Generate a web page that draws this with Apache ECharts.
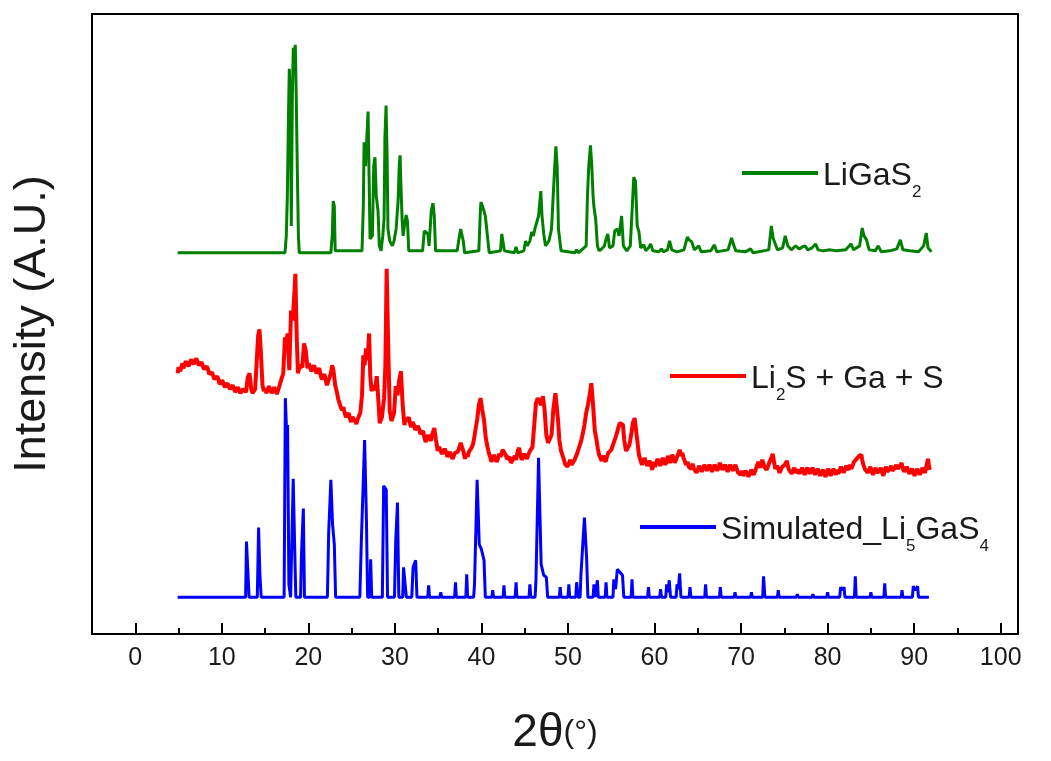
<!DOCTYPE html>
<html>
<head>
<meta charset="utf-8">
<script src="https://cdn.jsdelivr.net/npm/echarts@6/dist/echarts.min.js"></script>
<style>
  html, body { margin: 0; padding: 0; background: #fff; }
  #echart { width: 1051px; height: 761px; }
</style>
</head>
<body>
<div id="echart"></div>
<script>
// tick values on the 2θ axis
var majorTicks = [0, 10, 20, 30, 40, 50, 60, 70, 80, 90, 100];
var minorTicks = [5, 15, 25, 35, 45, 55, 65, 75, 85, 95];

// LiGaS2 pattern (offset upward)
var ligas2 = [
  [4.9,383],[17.3,383],[17.45,400],[17.57,439],[17.7,520],[17.8,568],[17.92,530],[18.03,410],[18.15,540],[18.26,589],[18.4,585],[18.49,592],[18.6,540],[18.72,469],[18.85,400],[18.95,383],
  [22.6,383],[22.76,400],[22.87,435],[23.0,430],[23.1,385],
  [26.2,385],[26.35,430],[26.44,494],[26.6,470],[26.9,525],[27.0,470],[27.13,397],[27.4,400],[27.55,470],[27.7,479],[27.85,440],[28.05,425],[28.2,390],[28.4,385],[28.6,400],[28.75,417],[28.85,500],[28.98,531],[29.1,480],[29.2,407],[29.4,395],[29.7,390],[29.9,395],[30.14,407],[30.37,435],[30.5,470],[30.6,481],[30.7,450],[30.83,417],[30.95,400],[31.1,410],[31.3,421],[31.45,415],[31.6,385],
  [33.2,385],[33.4,405],[33.6,407],[33.8,402],[33.95,390],[34.2,425],[34.4,433],[34.55,420],[34.7,385],
  [37.2,385],[37.4,397],[37.6,407],[37.75,409],[37.9,395],[38.05,383],
  [39.7,385],[39.85,420],[39.94,434],[40.1,430],[40.3,425],[40.45,420],[40.6,418],[40.75,395],[40.9,383],
  [42.2,385],[42.35,402],[42.5,404],[42.65,385],[43.8,383],[44.0,389],[44.2,383],[44.9,385],[45.1,395],[45.3,390],[45.6,395],[45.8,404],[46.0,400],[46.2,408],[46.4,414],[46.6,420],[46.86,445],[47.0,420],[47.2,402],[47.4,390],[47.8,395],[48.1,407],[48.35,450],[48.6,490],[48.75,470],[48.9,407],[49.2,385],
  [50.8,383],[51.0,386],[51.2,383],[52.1,390],[52.25,440],[52.4,470],[52.6,491],[52.75,470],[52.9,440],[53.0,429],[53.2,417],[53.4,390],[53.6,385],[53.9,387],[54.2,390],[54.4,397],[54.6,402],[54.8,388],[55.2,390],[55.4,405],[55.7,407],[55.9,400],[56.2,420],[56.4,390],[56.8,385],[57.2,390],[57.4,424],[57.6,459],[57.8,455],[58.0,410],[58.2,404],[58.4,388],[58.75,391],[59.0,385],[59.3,388],[59.55,392],[59.8,385],
  [60.5,384],[60.8,387],[61.0,384],[61.5,386],[61.74,395],[62.0,386],[62.6,384],[63.4,386],[63.8,399],[64.0,396],[64.3,394],[64.6,386],[65.1,390],[65.4,384],[66.5,385],[66.9,391],[67.2,384],[68.5,386],[68.9,398],[69.1,392],[69.4,385],
  [70.5,384],[71.1,387],[71.4,383],[73.2,386],[73.5,410],[73.7,398],[73.9,397],[74.2,386],[74.8,388],[75.1,400],[75.4,390],[75.8,386],[76.3,390],[76.7,387],[77.1,389],[77.4,390],[77.7,386],[78.2,388],[78.6,392],[78.9,386],[79.5,385],
  [80.3,386],[81.0,385],[82.1,386],[82.7,392],[83.0,386],[83.7,390],[84.0,408],[84.2,400],[84.5,396],[84.8,386],[85.5,385],[85.85,390],[86.2,384],[87.2,385],[88.0,387],[88.4,396],[88.7,386],[89.5,385],[90.5,384],[91.1,390],[91.4,403],[91.6,388],[92.0,384]
];

// Li2S + Ga + S measured pattern
var mixture = [
  [4.9,262],[5.0,268],[5.1,270],[5.2,264],[5.3,265],[5.45,272],[5.55,267],[5.7,268],[5.85,274],[6.0,274],[6.15,269],[6.3,270],[6.45,276],[6.6,278],[6.75,271],[6.9,272],[7.05,277],[7.2,275],[7.35,270],[7.5,268],[7.65,273],[7.8,271],[7.95,266],[8.1,265],[8.25,269],[8.4,266],[8.55,261],[8.7,259],[8.85,263],[9.0,261],[9.15,256],[9.3,255],[9.45,259],[9.6,256],[9.75,251],[9.9,251],
  [10.05,255],[10.2,253],[10.35,248],[10.5,248],[10.65,252],[10.8,251],[10.95,246],[11.1,246],[11.25,250],[11.4,248],[11.55,243],[11.7,244],[11.85,248],[12.0,247],[12.15,242],[12.3,241],[12.45,246],[12.6,245],[12.8,243],[13.0,258],[13.2,262],[13.4,246],[13.55,242],[13.7,240],[13.85,246],[14.0,244],[14.2,300],[14.35,306],[14.5,285],[14.7,250],
  [14.85,244],[15.0,247],[15.15,242],[15.3,244],[15.45,249],[15.6,247],[15.75,242],[15.9,243],[16.05,248],[16.2,246],[16.35,241],[16.5,245],[16.65,249],[16.8,250],[17.1,262],[17.3,298],[17.45,292],[17.6,302],[17.8,265],[18.0,325],[18.2,315],[18.4,345],[18.5,362],[18.65,300],[18.8,262],[19.0,270],[19.3,268],[19.5,292],[19.7,285],[19.9,267],
  [20.05,272],[20.2,270],[20.35,264],[20.5,265],[20.65,270],[20.8,268],[20.95,262],[21.1,263],[21.25,267],[21.4,261],[21.55,256],[21.7,258],[21.85,261],[22.0,255],[22.15,250],[22.3,252],[22.6,262],[22.75,270],[22.9,265],[23.1,250],[23.3,243],[23.45,236],[23.6,232],[23.75,228],[23.9,225],[24.05,228],[24.2,222],[24.35,218],[24.5,220],[24.65,222],[24.8,217],[24.95,213],
  [25.1,218],[25.25,220],[25.4,214],[25.55,211],[25.7,216],[25.85,219],[26.0,222],[26.2,240],[26.35,280],[26.5,270],[26.67,287],[26.85,275],[27.02,302],[27.15,260],[27.3,244],[27.5,250],[27.7,245],[27.9,259],[28.05,240],[28.25,212],[28.5,218],[28.75,237],[28.9,270],[29.05,367],[29.2,300],[29.4,225],[29.6,214],[29.9,222],
  [30.1,249],[30.3,240],[30.5,255],[30.7,264],[30.9,230],[31.1,210],[31.25,217],[31.4,214],[31.6,218],[31.75,211],[31.9,208],[32.05,213],[32.2,210],[32.35,205],[32.5,204],[32.65,209],[32.8,206],[32.95,201],[33.1,200],[33.25,204],[33.4,198],[33.55,193],[33.7,195],[33.85,200],[34.0,198],[34.15,194],[34.3,200],[34.55,207],[34.75,195],[34.95,184],
  [35.1,188],[35.3,186],[35.45,181],[35.6,181],[35.75,186],[35.9,183],[36.05,178],[36.2,178],[36.35,183],[36.5,181],[36.65,176],[36.8,177],[36.95,182],[37.1,180],[37.25,183],[37.4,186],[37.6,192],[37.75,194],[37.9,184],[38.1,176],[38.25,181],[38.4,178],[38.55,183],[38.7,182],[38.85,187],[39.0,190],[39.15,196],[39.3,205],[39.5,215],[39.7,230],[39.9,237],
  [40.1,225],[40.3,215],[40.5,197],[40.7,188],[40.85,182],[41.0,178],[41.15,173],[41.3,175],[41.45,180],[41.6,178],[41.75,173],[41.9,176],[42.05,181],[42.2,178],[42.45,185],[42.6,187],[42.8,180],[42.95,176],[43.1,174],[43.25,178],[43.4,172],[43.55,170],[43.7,176],[43.85,179],[44.0,175],[44.2,184],[44.35,187],[44.5,180],[44.65,175],[44.8,176],[44.95,181],
  [45.1,180],[45.25,176],[45.4,178],[45.55,183],[45.7,183],[45.9,188],[46.1,210],[46.3,232],[46.5,237],[46.7,236],[46.9,230],[47.1,239],[47.3,225],[47.5,200],[47.7,192],[47.9,190],[48.1,200],[48.3,225],[48.55,242],[48.7,244],[48.85,215],[49.0,195],[49.2,184],[49.35,180],[49.5,176],[49.65,171],[49.8,173],[49.95,168],
  [50.1,171],[50.25,175],[50.4,170],[50.55,168],[50.7,174],[50.85,177],[51.0,180],[51.15,184],[51.3,188],[51.45,192],[51.6,197],[51.75,203],[51.9,210],[52.1,222],[52.3,230],[52.5,240],[52.7,252],[52.9,230],[53.1,204],[53.3,195],[53.45,186],[53.6,180],[53.75,177],[53.9,174],[54.05,179],[54.2,176],[54.35,173],[54.5,178],[54.65,182],[54.8,180],
  [55.0,185],[55.2,190],[55.4,192],[55.6,200],[55.8,207],[56.0,212],[56.2,214],[56.35,210],[56.5,195],[56.7,184],[56.9,186],[57.1,190],[57.3,200],[57.5,212],[57.7,217],[57.85,215],[58.0,195],[58.2,180],
  [58.4,174],[58.55,170],[58.7,172],[58.85,177],[59.0,175],[59.15,169],[59.3,170],[59.45,174],[59.6,169],[59.75,165],[59.9,173],[60.05,168],[60.2,170],[60.35,176],[60.5,174],[60.65,169],[60.8,172],[60.95,177],[61.1,176],[61.25,170],[61.4,173],[61.55,179],[61.7,178],[61.8,172],[61.9,175],[62.05,180],[62.2,177],[62.35,172],[62.5,174],[62.65,179],[62.8,178],[62.9,185],[63.0,184],[63.1,179],[63.2,182],[63.35,177],[63.5,175],[63.65,170],[63.8,173],[63.95,168],[64.1,170],[64.25,166],[64.4,171],[64.55,166],[64.7,167],[64.85,162],
  [65.0,165],[65.15,169],[65.3,168],[65.45,163],[65.6,166],[65.75,170],[65.9,169],[66.05,164],[66.2,166],[66.35,170],[66.5,168],[66.65,163],[66.8,165],[66.95,170],[67.1,169],[67.25,164],[67.4,167],[67.55,172],[67.7,170],[67.85,165],[68.0,166],[68.15,170],[68.3,168],[68.45,163],[68.6,165],[68.75,170],[68.9,169],[69.05,164],[69.2,166],[69.35,170],[69.5,168],[69.65,162],[69.8,163],[69.95,160],
  [70.1,164],[70.25,159],[70.4,160],[70.55,164],[70.7,162],[70.85,158],[71.0,161],[71.15,165],[71.3,164],[71.45,160],[71.6,163],[71.75,167],[71.9,168],[72.0,173],[72.1,172],[72.2,167],[72.3,170],[72.45,175],[72.6,174],[72.7,168],[72.8,169],[72.95,165],[73.1,168],[73.25,172],[73.4,174],[73.55,178],[73.65,181],[73.75,176],[73.85,174],[73.95,166],[74.05,165],[74.15,169],[74.3,166],[74.45,162],[74.6,164],[74.75,168],[74.9,167],
  [75.05,170],[75.2,172],[75.3,174],[75.4,169],[75.55,165],[75.7,165],[75.85,161],[76.0,164],[76.15,167],[76.3,162],[76.45,160],[76.6,165],[76.75,161],[76.9,163],[77.05,167],[77.2,165],[77.35,160],[77.5,162],[77.65,167],[77.8,166],[77.95,161],[78.1,163],[78.25,167],[78.4,165],[78.55,160],[78.7,162],[78.85,166],[79.0,164],[79.15,159],[79.3,161],[79.45,165],[79.6,163],[79.75,158],[79.9,161],
  [80.05,166],[80.2,164],[80.35,159],[80.5,162],[80.65,166],[80.8,163],[80.95,160],[81.1,165],[81.25,161],[81.4,163],[81.55,168],[81.7,166],[81.85,162],[82.0,165],[82.15,169],[82.3,168],[82.45,165],[82.6,170],[82.75,166],[82.9,168],[83.05,173],[83.2,172],[83.35,176],[83.5,175],[83.65,179],[83.8,177],[83.9,180],[84.0,175],[84.1,171],[84.2,170],[84.35,165],[84.5,166],[84.65,162],[84.8,165],[84.95,168],
  [85.1,163],[85.25,160],[85.4,164],[85.55,167],[85.7,162],[85.85,160],[86.0,164],[86.15,167],[86.3,162],[86.45,159],[86.6,165],[86.75,168],[86.9,163],[87.05,161],[87.2,166],[87.35,169],[87.5,164],[87.65,162],[87.8,167],[87.95,170],[88.1,166],[88.25,164],[88.4,169],[88.55,172],[88.7,166],[88.85,163],[89.0,164],[89.15,168],[89.3,165],[89.45,161],[89.6,162],[89.75,166],[89.9,163],
  [90.05,159],[90.2,162],[90.35,166],[90.5,164],[90.65,160],[90.8,163],[90.95,167],[91.1,165],[91.25,162],[91.4,168],[91.5,172],[91.6,176],[91.7,170],[91.8,165]
];

// simulated Li5GaS4 pattern
var simulated = [
  [4.9,37],[12.75,37],[12.85,93],[13.05,93],[13.15,37],
  [14.1,37],[14.25,107],[14.4,60],[14.55,37],
  [17.2,37],[17.34,237],[17.5,200],[17.6,210],[17.75,50],[17.95,37],[18.25,156],[18.4,95],[18.55,37],
  [19.1,37],[19.2,79],[19.42,126],[19.55,37],
  [22.2,37],[22.35,102],[22.6,155],[22.8,110],[23.0,90],[23.15,37],
  [25.95,37],[26.1,87],[26.5,195],[26.7,120],[26.85,37],[27.1,37],[27.2,75],[27.32,37],
  [28.55,37],[28.7,149],[29.0,145],[29.15,37],
  [29.95,37],[30.1,95],[30.3,132],[30.45,37],[30.9,37],[31.0,67],[31.2,67],[31.32,37],
  [31.95,37],[32.1,67],[32.4,74],[32.55,37],
  [33.8,37],[33.9,49],[34.0,37],[35.2,37],[35.3,42],[35.4,37],[36.9,37],[37.0,52],[37.1,37],[38.2,37],[38.3,60],[38.4,37],
  [39.1,37],[39.2,50],[39.5,155],[39.75,90],[40.0,85],[40.3,74],[40.45,37],
  [41.2,37],[41.3,44],[41.4,37],[42.5,37],[42.6,49],[42.7,37],[43.9,37],[44.0,52],[44.1,37],[45.5,37],[45.6,50],[45.7,37],
  [46.2,37],[46.3,54],[46.6,177],[46.9,70],[47.2,59],[47.5,57],[47.65,37],
  [49.0,37],[49.1,47],[49.2,37],[50.0,37],[50.1,50],[50.2,37],[50.9,37],[51.0,52],[51.15,37],[51.4,37],[51.5,60],[51.9,117],[52.15,77],[52.3,37],
  [52.9,37],[53.0,50],[53.15,37],[53.3,37],[53.4,54],[53.5,37],[54.3,37],[54.4,52],[54.5,37],
  [55.2,37],[55.3,55],[55.5,45],[55.7,65],[56.0,62],[56.3,59],[56.45,37],[57.3,37],[57.4,55],[57.5,37],
  [59.2,37],[59.3,47],[59.4,37],[60.6,37],[60.7,45],[60.8,37],[61.3,37],[61.4,50],[61.55,42],[61.7,54],[61.85,37],[62.5,37],[62.6,50],[62.75,45],[62.9,61],[63.05,37],
  [64.0,37],[64.1,47],[64.2,37],[65.8,37],[65.9,50],[66.0,37],[67.5,37],[67.6,47],[67.7,37],[69.2,37],[69.3,42],[69.4,37],[71.1,37],[71.2,42],[71.3,37],
  [72.5,37],[72.6,58],[72.75,37],[74.2,37],[74.3,44],[74.4,37],[76.4,37],[76.5,40],[76.6,37],[78.2,37],[78.3,40],[78.4,37],[79.9,37],[80.0,42],[80.1,37],
  [81.4,37],[81.5,47],[81.7,44],[81.9,47],[82.0,37],[83.1,37],[83.2,58],[83.3,37],[84.9,37],[85.0,42],[85.1,37],[86.5,37],[86.6,51],[86.7,37],
  [88.5,37],[88.6,44],[88.7,37],[89.8,37],[89.9,48],[90.15,44],[90.4,48],[90.5,37],[91.7,37]
];

var myChart = echarts.init(document.getElementById('echart'));

var fontFam = '"Liberation Sans", Arial, sans-serif';
var legendRich = {
  n: { fontSize: 32, lineHeight: 32, padding: [3, 0, 0, 0], verticalAlign: 'top', color: '#1a1a1a', fontFamily: fontFam },
  s: { fontSize: 17, lineHeight: 17, padding: [27, 0, 0, 0], verticalAlign: 'top', color: '#1a1a1a', fontFamily: fontFam }
};
function makeLegend(name, left, top) {
  return {
    data: [name],
    left: left,
    top: top,
    padding: 0,
    icon: 'rect',
    itemWidth: 76,
    itemHeight: 4,
    selectedMode: false,
    textStyle: { rich: legendRich },
    formatter: function (n) {
      if (n === 'LiGaS2') return '{n|LiGaS}{s|2}';
      if (n === 'Li2S + Ga + S') return '{n|Li}{s|2}{n|S + Ga + S}';
      return '{n|Simulated_Li}{s|5}{n|GaS}{s|4}';
    }
  };
}

var option = {
  animation: false,
  backgroundColor: '#fff',
  grid: {
    left: 92, right: 33, top: 14, bottom: 123,
    show: true, borderColor: '#000', borderWidth: 2
  },
  legend: [
    makeLegend('LiGaS2', 742, 157),
    makeLegend('Li2S + Ga + S', 670, 360),
    makeLegend('Simulated_Li5GaS4', 640, 511)
  ],
  xAxis: [
    {
      type: 'value',
      min: -5,
      max: 102,
      axisLine: { show: true, onZero: false, lineStyle: { color: '#000', width: 2 } },
      axisTick: { show: true, inside: true, length: 11, customValues: majorTicks, lineStyle: { color: '#000', width: 2 } },
      axisLabel: { customValues: majorTicks, color: '#1a1a1a', fontSize: 25, margin: 12, fontFamily: fontFam },
      splitLine: { show: false },
      name: '{a|2θ}{b|(°)}',
      nameLocation: 'middle',
      nameGap: 76,
      nameTextStyle: {
        rich: {
          a: { fontSize: 46, color: '#1a1a1a', fontFamily: fontFam },
          b: { fontSize: 32, color: '#1a1a1a', fontFamily: fontFam }
        }
      }
    },
    {
      type: 'value',
      min: -5,
      max: 102,
      position: 'bottom',
      axisLine: { show: false },
      axisTick: { show: true, inside: true, length: 6, customValues: minorTicks, lineStyle: { color: '#000', width: 2 } },
      axisLabel: { show: false },
      splitLine: { show: false }
    }
  ],
  yAxis: {
    type: 'value',
    min: 0,
    max: 623,
    axisLine: { show: false },
    axisTick: { show: false },
    axisLabel: { show: false },
    splitLine: { show: false },
    name: 'Intensity (A.U.)',
    nameLocation: 'middle',
    nameGap: 37,
    nameTextStyle: { fontSize: 45, color: '#1a1a1a', fontFamily: fontFam }
  },
  series: [
    {
      name: 'LiGaS2', type: 'line', data: ligas2, showSymbol: false,
      color: '#008000', lineStyle: { width: 3, color: '#008000' }
    },
    {
      name: 'Li2S + Ga + S', type: 'line', data: mixture, showSymbol: false,
      color: '#ff0000', lineStyle: { width: 4, color: '#ff0000' }
    },
    {
      name: 'Simulated_Li5GaS4', type: 'line', data: simulated, showSymbol: false,
      color: '#0000ff', lineStyle: { width: 3, color: '#0000ff' }
    }
  ]
};
myChart.setOption(option);
window.onresize = myChart.resize;
</script>
</body>
</html>
